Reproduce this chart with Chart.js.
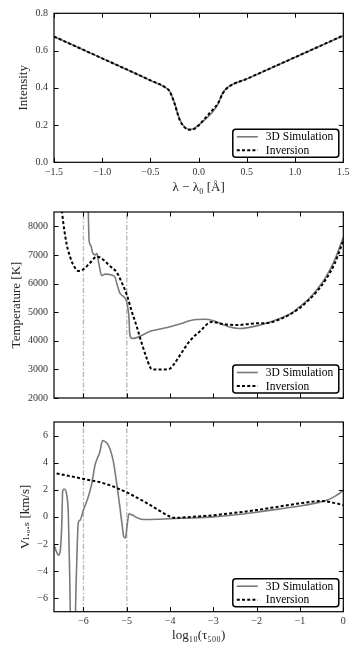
<!DOCTYPE html>
<html><head><meta charset="utf-8">
<script src="https://cdn.jsdelivr.net/npm/chart.js@4/dist/chart.umd.min.js"></script>
<style>
html,body{margin:0;padding:0;background:#fff;width:362px;height:651px;overflow:hidden}
.p{position:absolute;left:0;width:362px}
</style></head><body>
<div class="p" style="top:0;height:200px"><canvas id="c1"></canvas></div>
<div class="p" style="top:200px;height:210px"><canvas id="c2"></canvas></div>
<div class="p" style="top:410px;height:241px"><canvas id="c3"></canvas></div>
<script>
// ---------------- data ----------------
const seriesNames = ['3D Simulation', 'Inversion'];

// Panel 1: intensity profile
const lambda       = [-1.5, -1.0, -0.5, -0.34, -0.3, -0.25, -0.2, -0.15, -0.1, -0.05, 0.0, 0.05, 0.1, 0.15, 0.2, 0.25, 0.3, 0.5, 1.0, 1.5];
const intensitySim = [0.675, 0.558, 0.440, 0.400, 0.382, 0.318, 0.235, 0.192, 0.177, 0.182, 0.200, 0.222, 0.246, 0.274, 0.312, 0.372, 0.402, 0.448, 0.564, 0.680];
const intensityInv = [0.675, 0.558, 0.440, 0.400, 0.380, 0.315, 0.232, 0.190, 0.175, 0.178, 0.198, 0.226, 0.256, 0.284, 0.316, 0.370, 0.401, 0.448, 0.564, 0.681];
const lambdaTicks      = [-1.5, -1.0, -0.5, 0.0, 0.5, 1.0, 1.5];
const lambdaTickLabels = ['\u22121.5', '\u22121.0', '\u22120.5', '0.0', '0.5', '1.0', '1.5'];
const intensityTicks      = [0.0, 0.2, 0.4, 0.6, 0.8];
const intensityTickLabels = ['0.0', '0.2', '0.4', '0.6', '0.8'];

// Panel 2: temperature stratification
const tauSimT  = [-6.68, -6.2, -5.92, -5.89, -5.87, -5.83, -5.79, -5.73, -5.69, -5.66, -5.62, -5.58, -5.5, -5.35, -5.27, -5.22, -5.16, -5.08, -5.02, -4.99, -4.95, -4.93, -4.87, -4.77, -4.46, -4.23, -4.0, -3.7, -3.5, -3.2, -3.0, -2.8, -2.6, -2.4, -2.2, -2.0, -1.8, -1.5, -1.2, -1.0, -0.8, -0.6, -0.4, -0.2, 0.0];
const tempSim  = [10000, 10000, 9600, 8600, 7500, 7330, 7080, 7000, 7050, 6830, 6500, 6280, 6330, 6300, 6220, 5950, 5670, 5550, 5440, 5280, 4830, 4220, 4080, 4110, 4330, 4410, 4490, 4620, 4720, 4750, 4700, 4580, 4470, 4430, 4460, 4520, 4600, 4760, 4960, 5200, 5460, 5800, 6230, 6820, 7620];
const tauInvT  = [-6.68, -6.6, -6.5, -6.47, -6.39, -6.31, -6.24, -6.12, -6.0, -5.85, -5.69, -5.54, -5.39, -5.23, -5.12, -5.0, -4.89, -4.77, -4.66, -4.54, -4.45, -4.38, -4.1, -4.0, -3.9, -3.77, -3.54, -3.31, -3.04, -2.77, -2.46, -2.0, -1.77, -1.39, -1.0, -0.8, -0.6, -0.4, -0.2, 0.0];
const tempInv  = [9600, 9000, 8550, 8170, 7390, 6940, 6670, 6440, 6500, 6720, 6940, 6830, 6610, 6390, 6050, 5610, 5050, 4500, 3940, 3390, 3050, 3000, 3000, 3030, 3200, 3500, 4000, 4330, 4660, 4580, 4550, 4610, 4620, 4800, 5150, 5420, 5740, 6150, 6700, 7500];
const tempTicks      = [2000, 3000, 4000, 5000, 6000, 7000, 8000];
const tempTickLabels = ['2000', '3000', '4000', '5000', '6000', '7000', '8000'];

// Panel 3: line-of-sight velocity
const tauSimV = [-6.68, -6.62, -6.58, -6.54, -6.5, -6.48, -6.45, -6.41, -6.38, -6.35, -6.32, -6.29, -6.2, -6.17, -6.15, -6.12, -6.08, -6.0, -5.89, -5.81, -5.73, -5.62, -5.56, -5.5, -5.46, -5.39, -5.31, -5.23, -5.16, -5.11, -5.07, -5.03, -4.99, -4.95, -4.88, -4.75, -4.6, -4.3, -4.0, -3.5, -3.0, -2.5, -2.0, -1.5, -1.0, -0.56, -0.33, -0.15, 0.0];
const velSim  = [-2.1, -2.6, -2.83, -2.6, -0.5, 1.9, 2.06, 1.95, 1.5, 0.3, -4.0, -8.5, -8.5, -5.0, -2.8, -0.44, -0.25, 0.5, 1.47, 2.42, 3.85, 4.8, 5.64, 5.55, 5.45, 5.05, 4.1, 2.42, 0.75, -0.5, -1.45, -1.55, -0.6, 0.22, 0.15, -0.08, -0.2, -0.18, -0.13, -0.08, 0.0, 0.15, 0.35, 0.57, 0.8, 1.07, 1.29, 1.6, 1.95];
const tauInvV = [-6.62, -6.0, -5.5, -5.0, -4.5, -4.0, -3.9, -3.5, -3.0, -2.5, -2.0, -1.5, -1.0, -0.5, -0.25, 0.0];
const velInv  = [3.2, 2.8, 2.45, 1.8, 0.95, 0.02, -0.07, 0.0, 0.12, 0.3, 0.5, 0.75, 1.0, 1.17, 1.05, 0.88];
const velTicks      = [-6, -4, -2, 0, 2, 4, 6];
const velTickLabels = ['\u22126', '\u22124', '\u22122', '0', '2', '4', '6'];

const tauTicks      = [-6, -5, -4, -3, -2, -1, 0];
const tauTickLabels = ['\u22126', '\u22125', '\u22124', '\u22123', '\u22122', '\u22121', '0'];
const markerTaus    = [-6, -5];

// ---------------- styling helpers ----------------
const FONT = "'Liberation Serif', 'DejaVu Serif', serif";
const SIM_COLOR = '#7a7a7a';
const INV_COLOR = '#000000';

const frameTicks = {
  id: 'frameTicks',
  afterDraw(chart) {
    const o = chart.options.plugins.frameTicks;
    const a = chart.chartArea, ctx = chart.ctx;
    const xs = chart.scales.x, ys = chart.scales.y;
    ctx.save();
    ctx.strokeStyle = '#000';
    ctx.lineWidth = 1;
    const L = 4.5;
    ctx.beginPath();
    o.xTicks.forEach(v => {
      const px = Math.round(xs.getPixelForValue(v)) + 0.5;
      ctx.moveTo(px, a.bottom); ctx.lineTo(px, a.bottom - L);
      ctx.moveTo(px, a.top); ctx.lineTo(px, a.top + L);
    });
    o.yTicks.forEach(v => {
      const py = Math.round(ys.getPixelForValue(v)) + 0.5;
      ctx.moveTo(a.left, py); ctx.lineTo(a.left + L, py);
      ctx.moveTo(a.right, py); ctx.lineTo(a.right - L, py);
    });
    ctx.stroke();
    ctx.lineWidth = 1.2;
    ctx.strokeRect(a.left, a.top, a.right - a.left, a.bottom - a.top);
    ctx.restore();
  }
};

const boxLegend = {
  id: 'boxLegend',
  afterDatasetsDraw(chart) {
    const a = chart.chartArea, ctx = chart.ctx;
    const w = 106, h = 28;
    const x0 = a.right - 4.5 - w, y0 = a.bottom - 5 - h;
    ctx.save();
    ctx.fillStyle = '#fff';
    ctx.strokeStyle = '#000';
    ctx.lineWidth = 1.5;
    ctx.beginPath();
    if (ctx.roundRect) ctx.roundRect(x0, y0, w, h, 3); else ctx.rect(x0, y0, w, h);
    ctx.fill(); ctx.stroke();
    const ds = chart.data.datasets;
    [0, 1].forEach(i => {
      const y = y0 + 7.5 + i * 13.5;
      ctx.beginPath();
      ctx.strokeStyle = ds[i].borderColor;
      ctx.lineWidth = ds[i].borderWidth;
      ctx.setLineDash(ds[i].borderDash || []);
      ctx.moveTo(x0 + 4, y); ctx.lineTo(x0 + 25, y);
      ctx.stroke();
      ctx.setLineDash([]);
      ctx.fillStyle = '#000';
      ctx.font = '11.5px ' + FONT;
      ctx.textBaseline = 'middle';
      ctx.fillText(ds[i].label, x0 + 33, y + 0.5);
    });
    ctx.restore();
  }
};

function pts(xs, ys) { return xs.map((x, i) => ({ x: x, y: ys[i] })); }

function makeChart(id, c) {
  const datasets = [
    { label: seriesNames[0], data: pts(c.x1, c.y1), borderColor: SIM_COLOR, borderWidth: 1.6,
      pointRadius: 0, cubicInterpolationMode: 'monotone', order: 1 },
    { label: seriesNames[1], data: pts(c.x2, c.y2), borderColor: INV_COLOR, borderWidth: 2,
      borderDash: [3, 2.2], pointRadius: 0, cubicInterpolationMode: 'monotone', order: 0 }
  ];
  (c.vlines || []).forEach(v => datasets.push({
    label: 'marker', data: [{ x: v, y: c.yMin }, { x: v, y: c.yMax }],
    borderColor: '#b8b8b8', borderWidth: 1.4, borderDash: [5, 2, 1.5, 2], pointRadius: 0, order: 5
  }));
  const H = c.H;
  return new Chart(document.getElementById(id), {
    type: 'line',
    data: { datasets },
    options: {
      responsive: true, maintainAspectRatio: false, animation: false,
      layout: { padding: { top: c.top, right: 18.7, left: 0, bottom: 0 } },
      plugins: { legend: { display: false }, tooltip: { enabled: false },
        frameTicks: { xTicks: c.xTicks, yTicks: c.yTicks } },
      scales: {
        x: {
          type: 'linear', min: c.xMin, max: c.xMax,
          grid: { display: false, drawTicks: false }, border: { display: false },
          afterBuildTicks: s => { s.ticks = c.xTicks.map(v => ({ value: v })); },
          afterFit: s => { s.height = H - c.bottom; },
          ticks: { display: c.showX, padding: c.xLabelPad, maxRotation: 0, autoSkip: false,
            color: '#333', font: { family: FONT, size: 10 },
            callback: (v, i) => c.xLabels[i] },
          title: { display: !!c.xTitle, text: c.xTitle, color: '#222',
            font: { family: FONT, size: 13 }, padding: { top: 0, bottom: c.xTitlePad } }
        },
        y: {
          type: 'linear', min: c.yMin, max: c.yMax,
          grid: { display: false, drawTicks: false }, border: { display: false },
          afterBuildTicks: s => { s.ticks = c.yTicks.map(v => ({ value: v })); },
          afterFit: s => { s.width = 54; },
          ticks: { padding: 6, autoSkip: false, color: '#333', font: { family: FONT, size: 10 },
            callback: (v, i) => c.yLabels[i] },
          title: { display: true, text: c.yTitle, color: '#222',
            font: { family: FONT, size: 13 }, padding: { top: c.yTitlePad, bottom: 0 } }
        }
      }
    },
    plugins: [frameTicks, boxLegend]
  });
}

makeChart('c1', {
  H: 200, top: 13.3, bottom: 162.3,
  x1: lambda, y1: intensitySim, x2: lambda, y2: intensityInv,
  xMin: -1.5, xMax: 1.5, yMin: 0, yMax: 0.8,
  xTicks: lambdaTicks, xLabels: lambdaTickLabels, showX: true, xLabelPad: 4,
  yTicks: intensityTicks, yLabels: intensityTickLabels,
  xTitle: '\u03bb \u2212 \u03bb\u2080 [\u00c5]', xTitlePad: 5,
  yTitle: 'Intensity', yTitlePad: 16
});

makeChart('c2', {
  H: 210, top: 8.3, bottom: 203.3,
  x1: tauSimT, y1: tempSim, x2: tauInvT, y2: tempInv,
  xMin: -6.68, xMax: 0, yMin: 2000, yMax: 8500,
  xTicks: tauTicks, xLabels: tauTickLabels, showX: false, xLabelPad: 4,
  yTicks: tempTicks, yLabels: tempTickLabels,
  xTitle: '', xTitlePad: 0,
  yTitle: 'Temperature [K]', yTitlePad: 8.5, vlines: markerTaus
});

makeChart('c3', {
  H: 241, top: 6, bottom: 201.7,
  x1: tauSimV, y1: velSim, x2: tauInvV, y2: velInv,
  xMin: -6.68, xMax: 0, yMin: -7, yMax: 7,
  xTicks: tauTicks, xLabels: tauTickLabels, showX: true, xLabelPad: 3.5,
  yTicks: velTicks, yLabels: velTickLabels,
  xTitle: 'log\u2081\u2080(\u03c4\u2085\u2080\u2080)', xTitlePad: 8,
  yTitle: 'V\u2097.\u2092.\u209b [km/s]', yTitlePad: 18, vlines: markerTaus
});
</script>
</body></html>
